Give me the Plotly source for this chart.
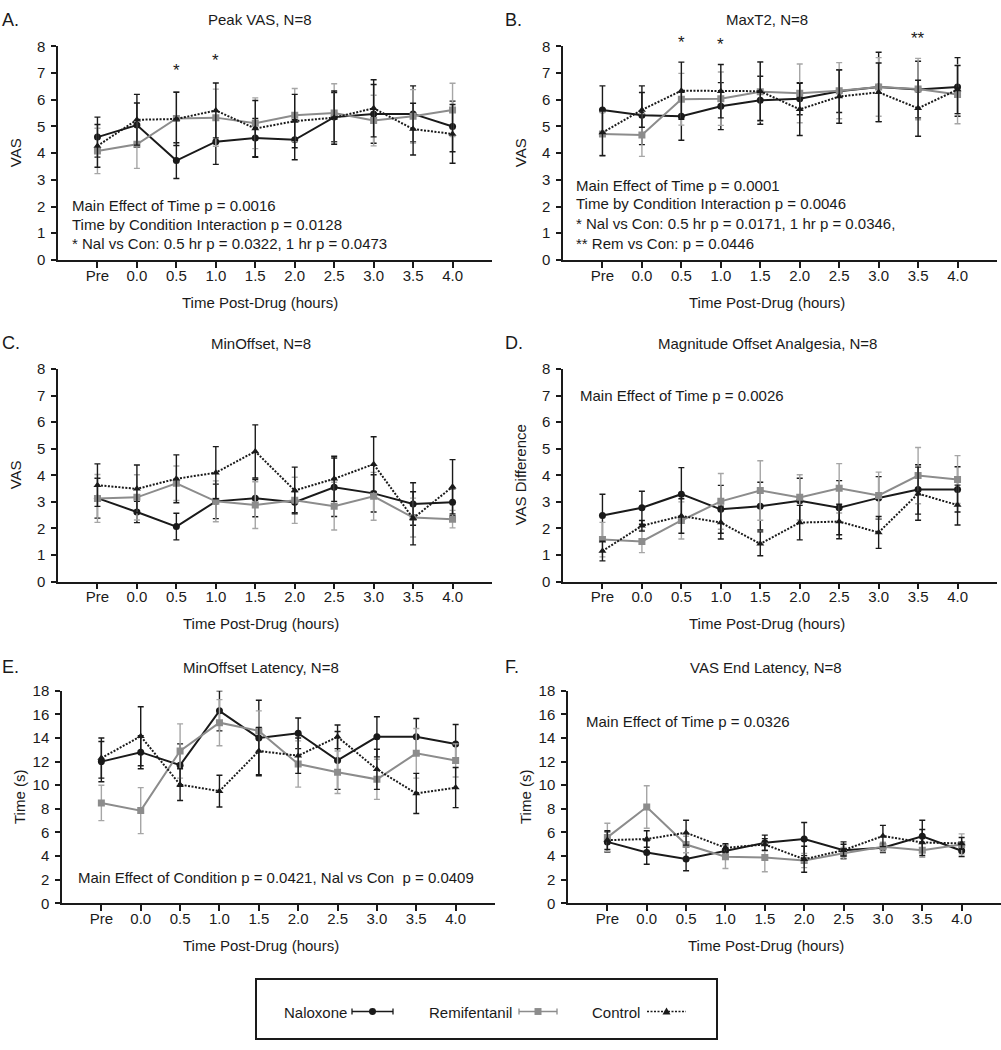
import plotly.graph_objects as go

W, H = 1001, 1050
FONT = "Liberation Sans, Arial, Helvetica, sans-serif"
INK = "#1a1a1a"
GREY = "#8c8c8c"
GREY_BAR = "#a6a6a6"
FS = 15

TIME_LABELS = ["Pre", "0.0", "0.5", "1.0", "1.5", "2.0", "2.5", "3.0", "3.5", "4.0"]

# --- A. Peak VAS -------------------------------------------------------
A_NAL = [4.6, 5.05, 3.72, 4.43, 4.57, 4.5, 5.35, 5.47, 5.47, 5.0]
A_NAL_SE = [0.75, 0.83, 0.67, 0.85, 0.73, 0.75, 0.92, 1.1, 1.05, 0.95]
A_REM = [4.08, 4.33, 5.3, 5.33, 5.12, 5.42, 5.5, 5.22, 5.38, 5.62]
A_REM_SE = [0.85, 0.9, 1.0, 1.07, 0.95, 1.0, 1.1, 0.95, 1.0, 1.0]
A_CON = [4.27, 5.25, 5.28, 5.6, 4.92, 5.2, 5.33, 5.68, 4.9, 4.72]
A_CON_SE = [0.8, 0.95, 1.0, 1.03, 1.05, 1.0, 1.0, 1.07, 0.97, 1.1]
A_STARS = ["*", "*"]
A_STAR_AT = [2, 3]
A_STAR_Y = [7.1, 7.47]
A_NOTES = ["Main Effect of Time p = 0.0016",
           "Time by Condition Interaction p = 0.0128",
           "* Nal vs Con: 0.5 hr p = 0.0322, 1 hr p = 0.0473"]

# --- B. MaxT2 -----------------------------------------------------------
B_NAL = [5.62, 5.42, 5.38, 5.76, 5.98, 6.04, 6.32, 6.48, 6.38, 6.48]
B_NAL_SE = [0.9, 1.1, 0.9, 0.88, 0.9, 0.6, 0.8, 1.3, 1.06, 1.1]
B_REM = [4.72, 4.68, 6.02, 6.04, 6.3, 6.24, 6.34, 6.48, 6.4, 6.2]
B_REM_SE = [0.8, 0.8, 0.97, 1.0, 1.1, 1.1, 1.05, 1.1, 1.15, 1.1]
B_CON = [4.77, 5.62, 6.34, 6.32, 6.32, 5.64, 6.12, 6.28, 5.68, 6.38]
B_CON_SE = [0.87, 0.65, 1.07, 1.0, 1.1, 0.98, 1.0, 1.1, 1.05, 0.9]
B_STARS = ["*", "*", "**"]
B_STAR_AT = [2, 3, 8]
B_STAR_Y = [8.15, 8.08, 8.28]
B_NOTES = ["Main Effect of Time p = 0.0001",
           "Time by Condition Interaction p = 0.0046",
           "* Nal vs Con: 0.5 hr p = 0.0171, 1 hr p = 0.0346,",
           "** Rem vs Con: p = 0.0446"]

# --- C. MinOffset -------------------------------------------------------
C_NAL = [3.14, 2.62, 2.07, 3.02, 3.14, 2.99, 3.55, 3.32, 2.92, 2.99]
C_NAL_SE = [0.75, 0.4, 0.5, 0.65, 0.7, 0.4, 1.1, 0.7, 0.8, 0.5]
C_REM = [3.13, 3.17, 3.7, 3.02, 2.88, 3.06, 2.84, 3.21, 2.41, 2.35]
C_REM_SE = [0.9, 0.85, 0.65, 0.77, 0.88, 0.87, 0.9, 0.9, 0.73, 0.33]
C_CON = [3.63, 3.49, 3.87, 4.1, 4.9, 3.43, 3.87, 4.42, 2.38, 3.57]
C_CON_SE = [0.8, 0.9, 0.9, 0.98, 1.0, 0.88, 0.85, 1.03, 1.0, 1.02]

# --- D. Magnitude Offset Analgesia -------------------------------------
D_NAL = [2.49, 2.78, 3.29, 2.72, 2.84, 3.04, 2.78, 3.15, 3.47, 3.47]
D_NAL_SE = [0.8, 0.62, 1.0, 0.9, 0.9, 0.85, 1.02, 0.8, 0.93, 0.85]
D_REM = [1.58, 1.51, 2.3, 3.02, 3.43, 3.17, 3.51, 3.24, 3.99, 3.84]
D_REM_SE = [0.65, 0.42, 0.7, 1.05, 1.12, 0.85, 0.93, 0.88, 1.06, 0.9]
D_CON = [1.15, 2.1, 2.47, 2.22, 1.42, 2.22, 2.26, 1.85, 3.31, 2.88]
D_CON_SE = [0.37, 0.2, 0.65, 0.62, 0.45, 0.65, 0.65, 0.6, 1.0, 0.75]
D_NOTES = ["Main Effect of Time p = 0.0026"]

# --- E. MinOffset Latency ----------------------------------------------
E_NAL = [12.0, 12.8, 11.7, 16.3, 14.0, 14.4, 12.1, 14.1, 14.1, 13.5]
E_NAL_SE = [1.7, 1.4, 1.8, 1.7, 3.2, 1.3, 2.45, 1.7, 1.55, 1.65]
E_REM = [8.5, 7.85, 12.9, 15.3, 14.6, 11.8, 11.1, 10.5, 12.7, 12.1]
E_REM_SE = [1.5, 1.95, 2.3, 1.95, 1.7, 1.96, 1.8, 1.7, 2.1, 1.4]
E_CON = [12.3, 14.15, 10.05, 9.5, 12.9, 12.5, 14.1, 11.35, 9.3, 9.8]
E_CON_SE = [1.7, 2.5, 1.35, 1.35, 2.0, 1.5, 1.0, 1.7, 1.7, 1.7]
E_NOTES = ["Main Effect of Condition p = 0.0421, Nal vs Con\u00a0\u00a0p = 0.0409"]

# --- F. VAS End Latency -------------------------------------------------
F_NAL = [5.2, 4.3, 3.76, 4.45, 5.12, 5.44, 4.5, 4.7, 5.68, 4.45]
F_NAL_SE = [0.85, 1.0, 1.0, 0.5, 0.65, 1.4, 0.7, 0.4, 1.35, 0.5]
F_REM = [5.58, 8.15, 4.98, 3.95, 3.87, 3.62, 4.23, 4.78, 4.5, 4.98]
F_REM_SE = [1.2, 1.8, 0.7, 1.0, 1.2, 0.6, 0.5, 0.4, 0.6, 0.9]
F_CON = [5.35, 5.44, 5.98, 4.7, 4.98, 3.73, 4.5, 5.7, 5.15, 5.07]
F_CON_SE = [0.8, 0.7, 1.05, 0.35, 0.5, 1.1, 0.5, 0.9, 1.1, 0.5]
F_NOTES = ["Main Effect of Time p = 0.0326"]


def px(x):
    return x / W


def py(y):
    return 1 - y / H


# panel geometry in screen pixels: (left, right, top, bottom) of the plot area
PANELS = [
    dict(letter="A.", title="Peak VAS, N=8", ytitle="VAS", ymax=8, dtick=1,
         box=(58, 492, 38, 255), hx=260, top=11,
         data=(A_NAL, A_NAL_SE, A_REM, A_REM_SE, A_CON, A_CON_SE),
         notes=A_NOTES, note_x=70, note_y=[200, 219, 238],
         stars=(A_STARS, A_STAR_AT, A_STAR_Y)),
    dict(letter="B.", title="MaxT2, N=8", ytitle="VAS", ymax=8, dtick=1,
         box=(563, 997, 38, 255), hx=767, top=11,
         data=(B_NAL, B_NAL_SE, B_REM, B_REM_SE, B_CON, B_CON_SE),
         notes=B_NOTES, note_x=574, note_y=[179, 198, 218, 238],
         stars=(B_STARS, B_STAR_AT, B_STAR_Y)),
    dict(letter="C.", title="MinOffset, N=8", ytitle="VAS", ymax=8, dtick=1,
         box=(58, 492, 366, 582), hx=261, top=340,
         data=(C_NAL, C_NAL_SE, C_REM, C_REM_SE, C_CON, C_CON_SE),
         notes=[], note_x=0, note_y=[], stars=None),
    dict(letter="D.", title="Magnitude Offset Analgesia, N=8", ytitle="VAS Difference",
         ymax=8, dtick=1, box=(563, 997, 366, 582), hx=767, top=340,
         data=(D_NAL, D_NAL_SE, D_REM, D_REM_SE, D_CON, D_CON_SE),
         notes=D_NOTES, note_x=578, note_y=[393], stars=None),
    dict(letter="E.", title="MinOffset Latency, N=8", ytitle="Time (s)", ymax=18, dtick=2,
         box=(62, 495, 693, 909), hx=261, top=669,
         data=(E_NAL, E_NAL_SE, E_REM, E_REM_SE, E_CON, E_CON_SE),
         notes=E_NOTES, note_x=76, note_y=[883], stars=None),
    dict(letter="F.", title="VAS End Latency, N=8", ytitle="Time (s)", ymax=18, dtick=2,
         box=(568, 1001, 693, 909), hx=766, top=669,
         data=(F_NAL, F_NAL_SE, F_REM, F_REM_SE, F_CON, F_CON_SE),
         notes=F_NOTES, note_x=584, note_y=[724], stars=None),
]

DOTS = "2px,1.5px"

fig = go.Figure()
annotations = []
layout = {}
xs = list(range(len(TIME_LABELS)))

for i, p in enumerate(PANELS, start=1):
    l, r, t, b = p["box"]
    xa, ya = f"x{i}", f"y{i}"
    nal, nal_se, rem, rem_se, con, con_se = p["data"]

    fig.add_trace(go.Scatter(
        x=xs, y=nal, xaxis=xa, yaxis=ya, mode="lines+markers", showlegend=False,
        line=dict(color=INK, width=2),
        marker=dict(symbol="circle", size=7, color=INK),
        error_y=dict(type="data", array=nal_se, color=INK, thickness=1.4, width=3),
    ))
    fig.add_trace(go.Scatter(
        x=xs, y=rem, xaxis=xa, yaxis=ya, mode="lines+markers", showlegend=False,
        line=dict(color=GREY, width=2),
        marker=dict(symbol="square", size=7, color=GREY),
        error_y=dict(type="data", array=rem_se, color=GREY_BAR, thickness=1.4, width=3),
    ))
    fig.add_trace(go.Scatter(
        x=xs, y=con, xaxis=xa, yaxis=ya, mode="lines+markers", showlegend=False,
        line=dict(color=INK, width=2, dash=DOTS),
        marker=dict(symbol="triangle-up", size=7, color=INK),
        error_y=dict(type="data", array=con_se, color=INK, thickness=1.4, width=3),
    ))

    sfx = "" if i == 1 else str(i)
    layout[f"xaxis{sfx}"] = dict(
        domain=[px(l), px(r)], anchor=ya, range=[-1, 10],
        tickmode="array", tickvals=xs, ticktext=TIME_LABELS,
        showline=True, linecolor=INK, linewidth=1.5, showgrid=False, zeroline=False,
        ticks="outside", ticklen=6, tickwidth=1.5, tickcolor=INK, ticklabelstandoff=-5,
        tickfont=dict(family=FONT, size=FS, color=INK), fixedrange=True,
    )
    layout[f"yaxis{sfx}"] = dict(
        domain=[py(b), py(t)], anchor=xa, range=[0, p["ymax"]], dtick=p["dtick"],
        showline=True, linecolor=INK, linewidth=1.5, showgrid=False, zeroline=False,
        ticks="outside", ticklen=5, tickwidth=1.5, tickcolor=INK, ticklabelstandoff=3,
        tickfont=dict(family=FONT, size=FS, color=INK), fixedrange=True,
    )

    letter_x = 0 if l < 300 else 503
    annotations.append(dict(text=p["letter"], x=px(letter_x), y=py(p["top"]),
                            xref="paper", yref="paper", xanchor="left", yanchor="middle",
                            showarrow=False, font=dict(family=FONT, size=18, color=INK)))
    annotations.append(dict(text=p["title"], x=px(p["hx"]), y=py(p["top"]),
                            xref="paper", yref="paper", xanchor="center", yanchor="middle",
                            showarrow=False, font=dict(family=FONT, size=FS, color=INK)))
    annotations.append(dict(text="Time Post-Drug (hours)", x=px(p["hx"]), y=py(b + 43),
                            xref="paper", yref="paper", xanchor="center", yanchor="middle",
                            showarrow=False, font=dict(family=FONT, size=FS, color=INK)))
    annotations.append(dict(text=p["ytitle"], x=px(l - 43), y=py((t + b) / 2),
                            xref="paper", yref="paper", xanchor="center", yanchor="middle",
                            textangle=-90, showarrow=False,
                            font=dict(family=FONT, size=FS, color=INK)))
    for txt, yy in zip(p["notes"], p["note_y"]):
        annotations.append(dict(text=txt, x=px(p["note_x"]), y=py(yy),
                                xref="paper", yref="paper", xanchor="left", yanchor="middle",
                                showarrow=False, font=dict(family=FONT, size=FS, color=INK)))
    if p["stars"]:
        # stars can sit above the top of the axis range, where data-referenced
        # annotations get hidden, so place them vertically in paper units
        for s, sx, sy in zip(*p["stars"]):
            ypix = b - (b - t) * sy / p["ymax"]
            annotations.append(dict(text=s, x=sx, y=py(ypix), xref=xa, yref="paper",
                                    xanchor="center", yanchor="middle", showarrow=False,
                                    font=dict(family=FONT, size=17, color=INK)))

# --- legend box (drawn by hand: label left of the sample, as in the figure)
shapes = [dict(type="rect", xref="paper", yref="paper",
               x0=px(256), x1=px(717), y0=py(1047), y1=py(986),
               line=dict(color=INK, width=2))]
LEG_Y = 1019
legend_items = [
    ("Naloxone", 282, 352, 393, INK, "solid", "circle"),
    ("Remifentanil", 427, 519, 557, GREY, "solid", "square"),
    ("Control", 590, 647, 686, INK, DOTS, "triangle"),
]
for name, tx, x0, x1, col, dash, sym in legend_items:
    annotations.append(dict(text=name, x=px(tx), y=py(LEG_Y + 1), xref="paper", yref="paper",
                            xanchor="left", yanchor="middle", showarrow=False,
                            font=dict(family=FONT, size=FS, color=INK)))
    shapes.append(dict(type="line", xref="paper", yref="paper",
                       x0=px(x0), x1=px(x1), y0=py(LEG_Y), y1=py(LEG_Y),
                       line=dict(color=col, width=1.3, dash=dash)))
    if dash == "solid":
        for cx in (x0, x1):
            shapes.append(dict(type="line", xref="paper", yref="paper",
                               x0=px(cx), x1=px(cx), y0=py(LEG_Y - 3), y1=py(LEG_Y + 3),
                               line=dict(color=col, width=1.3)))
    mx = (x0 + x1) / 2
    if sym == "circle":
        shapes.append(dict(type="circle", xref="paper", yref="paper",
                           x0=px(mx - 3.5), x1=px(mx + 3.5), y0=py(LEG_Y + 3.5), y1=py(LEG_Y - 3.5),
                           fillcolor=col, line=dict(color=col, width=0)))
    elif sym == "square":
        shapes.append(dict(type="rect", xref="paper", yref="paper",
                           x0=px(mx - 3.5), x1=px(mx + 3.5), y0=py(LEG_Y + 3.5), y1=py(LEG_Y - 3.5),
                           fillcolor=col, line=dict(color=col, width=0)))
    else:
        path = (f"M {px(mx - 4)} {py(LEG_Y + 3)} L {px(mx + 4)} {py(LEG_Y + 3)} "
                f"L {px(mx)} {py(LEG_Y - 4)} Z")
        shapes.append(dict(type="path", xref="paper", yref="paper", path=path,
                           fillcolor=col, line=dict(color=col, width=0)))

fig.update_layout(
    width=W, height=H,
    margin=dict(l=0, r=0, t=0, b=0),
    paper_bgcolor="white", plot_bgcolor="white",
    font=dict(family=FONT, size=FS, color=INK),
    showlegend=False,
    annotations=annotations,
    shapes=shapes,
    **layout,
)

# the page's default 8px body margin would push the figure off the 1001x1050 window
fig.write_html("out.html", config={"displayModeBar": False},
               post_script="document.body.style.margin='0px';")
